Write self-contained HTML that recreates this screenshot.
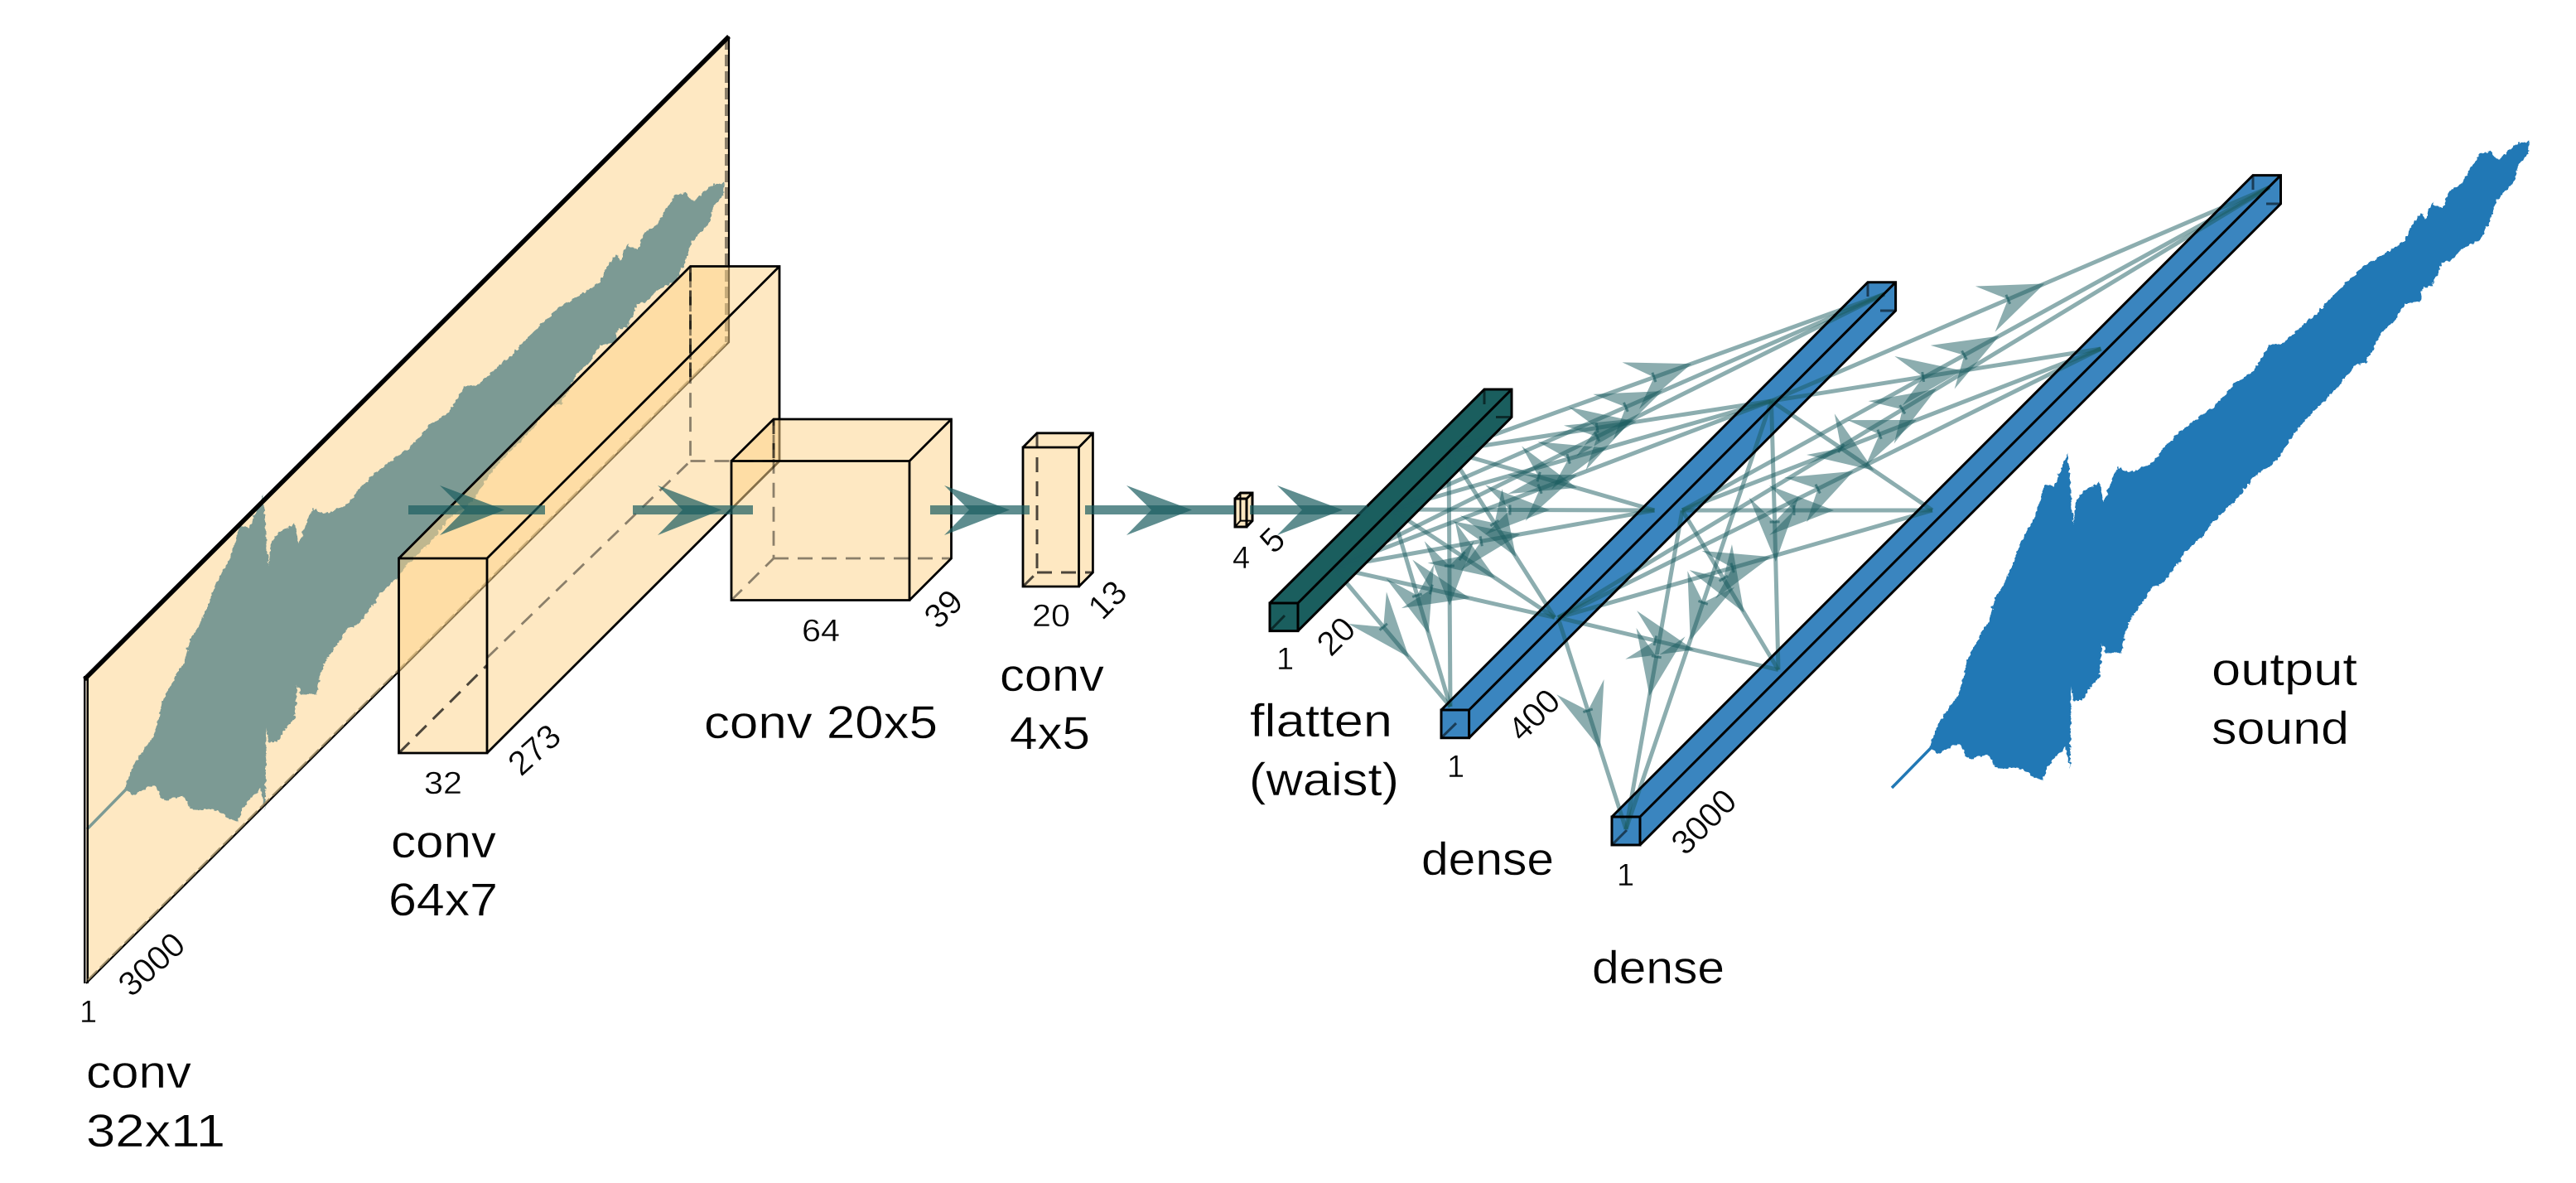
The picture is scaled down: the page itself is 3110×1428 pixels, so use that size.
<!DOCTYPE html>
<html><head><meta charset="utf-8"><style>
html,body{margin:0;padding:0;background:#fff}
svg{display:block}
text{font-family:"Liberation Sans",sans-serif;fill:#050505;stroke:#fff;stroke-width:.4;paint-order:normal}
.l{font-size:56px}
.d{font-size:38px}
.r{text-anchor:middle;dominant-baseline:central;font-size:41px}
.fill{fill:#fdd28a;fill-opacity:.52}
.s{fill:none;stroke:#000;stroke-width:2.8;stroke-linejoin:miter}
.h{fill:none;stroke:#000;stroke-opacity:.45;stroke-width:2.8;stroke-dasharray:18 11}
.k{fill:none;stroke:#000;stroke-opacity:.7;stroke-width:3;stroke-dasharray:18 11}
.c polyline{fill:none;stroke:#1a5c60;stroke-opacity:.5;stroke-width:5}
.m{fill:#1a5c60;fill-opacity:.7}
</style></head><body>
<svg xmlns="http://www.w3.org/2000/svg" width="3110" height="1428" viewBox="0 0 3110 1428">
<defs>
<filter id="j" filterUnits="userSpaceOnUse" x="0" y="0" width="3110" height="1428" color-interpolation-filters="sRGB">
<feTurbulence type="fractalNoise" baseFrequency="0.2" numOctaves="2" seed="4" result="n"/>
<feDisplacementMap in="SourceGraphic" in2="n" scale="6" xChannelSelector="R" yChannelSelector="G"/>
</filter>
<marker id="a" markerUnits="userSpaceOnUse" markerWidth="100" markerHeight="80" viewBox="-40 -40 100 80" refX="16" refY="0" orient="auto" overflow="visible">
<path d="M48,0 L-30,-30 L0,0 L-30,30 Z" fill="#1a5c60" fill-opacity=".5"/>
<rect x="-1.5" y="-6" width="3" height="12" fill="#1a5c60" fill-opacity=".6"/>
</marker>
<g id="w">
<g filter="url(#j)"><path fill="currentColor" transform="translate(2270 500) scale(.33333)" d="M178,1210 205,1130 250,1060 285,1015 315,890 350,820 390,755 415,665 440,630 470,570 505,470 560,370 595,255 630,260 680,140 698,395 710,320 730,285 795,245 808,320 860,190 900,210 990,175 1030,115 1085,65 1170,0 1210,-30 1290,-115 1350,-155 1410,-250 1455,-255 1570,-355 1660,-450 1750,-535 1850,-595 1900,-630 1925,-685 1960,-730 1975,-705 2000,-765 2035,-745 2060,-805 2110,-845 2150,-905 2170,-945 2210,-950 2240,-920 2300,-975 2350,-990 2350,-950 2310,-900 2300,-850 2230,-770 2210,-700 2170,-630 2140,-615 2110,-600 2070,-560 2035,-550 2000,-465 1965,-460 1955,-410 1900,-400 1860,-335 1820,-300 1760,-190 1720,-175 1660,-100 1570,-10 1490,80 1440,165 1350,230 1290,310 1210,385 1170,440 1105,500 1075,545 1025,610 985,625 950,680 905,745 885,800 870,865 815,865 805,830 795,945 730,1035 700,1040 692,985 688,1280 670,1205 610,1270 590,1330 500,1280 420,1280 390,1230 320,1250 285,1190 210,1230 Z"/></g>
<path d="M2284 951 L2331 903" stroke="currentColor" stroke-width="3.5" fill="none"/>
</g>
</defs>

<!-- input plane -->
<path d="M104 818 L880 44 V413 L104 1187 Z" class="fill"/>
<use href="#w" transform="translate(-2179 50)" style="color:#7c9a94"/>
<path d="M102.2 816 V1187 M105.8 816 V1187" stroke="#000" stroke-width="2.4" fill="none"/>
<path d="M102 820 L880 44" stroke="#000" stroke-width="5.5" fill="none"/>
<path d="M880 44 V413 L104 1187" stroke="#000" stroke-width="2.2" fill="none"/>
<path d="M877 46 V413" stroke="#000" stroke-opacity=".45" stroke-width="4" stroke-dasharray="14 6" fill="none"/>
<path d="M106 1183 L877 414" stroke="#8a7a58" stroke-opacity=".8" stroke-width="2.4" stroke-dasharray="16 5" fill="none"/>

<!-- box 2 -->
<path class="fill" d="M481.5 674 L833.5 321.5 H941 V556.5 L588 909 H481.5 Z"/>
<path class="h" d="M588 794 L833.5 556.5 V321.5 M833.5 556.5 H941"/>
<path class="k" d="M481.5 909 L588 803 M833.5 321.5 V455"/>
<path class="s" d="M481.5 674 H588 V909 H481.5 Z M481.5 674 L833.5 321.5 H941 V556.5 L588 909 M588 674 L941 321.5"/>
<!-- box 3 -->
<path class="fill" d="M883 556.5 L934 506 H1148.5 V674 L1098 724.5 H883 Z"/>
<path class="h" d="M883 724.5 L934 674 V506 M934 674 H1148.5"/>
<path class="k" d="M934 506 V556"/>
<path class="s" d="M883 556.5 H1098 V724.5 H883 Z M883 556.5 L934 506 H1148.5 V674 L1098 724.5 M1098 556.5 L1148.5 506"/>
<!-- box 4 -->
<path class="fill" d="M1235 540 L1252 522.8 H1319.4 V691 L1302.5 708 H1235 Z"/>
<path class="k" d="M1235 708 L1252 691 V522.8 M1252 691 H1319.4"/>
<path class="s" d="M1235 540 H1302.5 V708 H1235 Z M1235 540 L1252 522.8 H1319.4 V691 L1302.5 708 M1302.5 540 L1319.4 522.8"/>
<!-- box 5 -->
<path class="fill" d="M1491 602 L1497.5 595 H1512 V628.6 L1505 636 H1491 Z"/>
<path class="s" style="stroke-width:2" d="M1497.5 595 V628.6 H1512 M1491 636 L1497.5 628.6"/>
<path class="s" style="stroke-width:3" d="M1491 602 H1505 V636 H1491 Z M1491 602 L1497.5 595 H1512 V628.6 L1505 636 M1505 602 L1512 595"/>

<!-- bars fill -->
<path fill="#1a5e5e" d="M1533 728 L1792 470 H1825 V503.5 L1567 761.6 H1533 Z"/>
<path fill="#3a85bf" d="M1740 857 L2255 340.7 H2288.6 V375 L1773.6 890.7 H1740 Z"/>
<path fill="#3a85bf" d="M1946 986 L2720 211.6 H2753.5 V246 L1980 1020 H1946 Z"/>

<!-- connectors -->
<g class="c" marker-mid="url(#a)">
<polyline points="1610,685 1680.5,769 1751,853"/>
<polyline points="1610,685 1743.5,715 1877,745.5"/>
<polyline points="1610,685 1804,650.5 1997.5,616"/>
<polyline points="1610,685 1874,584.5 2138.5,484"/>
<polyline points="1610,685 1942.5,520 2275,355"/>
<polyline points="1680,615 1715.5,734 1751,853"/>
<polyline points="1680,615 1778.5,680 1877,745.5"/>
<polyline points="1680,615 1839,615.5 1997.5,616"/>
<polyline points="1680,615 1909,549.5 2138.5,484"/>
<polyline points="1680,615 1977.5,485 2275,355"/>
<polyline points="1749,544.5 1750,699 1751,853"/>
<polyline points="1749,544.5 1813,645 1877,745.5"/>
<polyline points="1749,544.5 1873,580 1997.5,616"/>
<polyline points="1749,544.5 1944,514 2138.5,484"/>
<polyline points="1749,544.5 2012,450 2275,355"/>
<polyline points="1881,745.5 1922,873 1963,1001"/>
<polyline points="1881,745.5 2014,777 2147,808.6"/>
<polyline points="1881,745.5 2107,681 2333,616"/>
<polyline points="1881,745.5 2209,583 2536.5,421"/>
<polyline points="1881,745.5 2310.5,486 2740,226"/>
<polyline points="2031,616 1997,808.5 1963,1001"/>
<polyline points="2031,616 2089,712 2147,808.6"/>
<polyline points="2031,616 2182,616 2333,616"/>
<polyline points="2031,616 2284,518.5 2536.5,421"/>
<polyline points="2031,616 2385.5,421 2740,226"/>
<polyline points="2138.5,484 2051,742.5 1963,1001"/>
<polyline points="2138.5,484 2143,646 2147,808.6"/>
<polyline points="2138.5,484 2236,550 2333,616"/>
<polyline points="2138.5,484 2337.5,452.5 2536.5,421"/>
<polyline points="2138.5,484 2439,355 2740,226"/>
</g>

<!-- bar edges -->
<g class="s" style="stroke-width:3">
<path d="M1533 728 H1567 V761.6 H1533 Z M1533 728 L1792 470 H1825 V503.5 L1567 761.6 M1567 728 L1825 470"/>
<path d="M1740 857 H1773.6 V890.7 H1740 Z M1740 857 L2255 340.7 H2288.6 V375 L1773.6 890.7 M1773.6 857 L2288.6 340.7"/>
<path d="M1946 986 H1980 V1020 H1946 Z M1946 986 L2720 211.6 H2753.5 V246 L1980 1020 M1980 986 L2753.5 211.6"/>
</g>
<g fill="none" stroke="#000" stroke-opacity=".55" stroke-width="3">
<path d="M1792 470 V488 M1806 503.5 H1825 M1533 761.6 L1551 743"/>
<path d="M2255 340.7 V358 M2270 375 H2288 M1740 890.7 L1758 873"/>
<path d="M2720 211.6 V229 M2736 246 H2753 M1946 1020 L1964 1002"/>
</g>

<!-- main arrows -->
<g>
<rect class="m" x="493" y="610" width="165" height="11"/>
<rect class="m" x="764" y="610" width="145" height="11"/>
<rect class="m" x="1123" y="610" width="120" height="11"/>
<rect class="m" x="1310" y="610" width="180" height="11"/>
<rect class="m" x="1509" y="610" width="142" height="11"/>
<path class="m" d="M609 615.5 L531 586 L561 615.5 L531 646 Z"/>
<path class="m" d="M871 615.5 L794 586 L824 615.5 L794 646 Z"/>
<path class="m" d="M1219 615.5 L1140 586 L1170 615.5 L1140 646 Z"/>
<path class="m" d="M1439 615.5 L1360 586 L1390 615.5 L1360 646 Z"/>
<path class="m" d="M1621 615.5 L1542 586 L1572 615.5 L1542 646 Z"/>
</g>

<!-- output wave -->
<use href="#w" style="color:#2178b5"/>

<!-- labels -->
<text class="l" x="104" y="1313" textLength="127" lengthAdjust="spacingAndGlyphs">conv</text>
<text class="l" x="104" y="1384" textLength="168" lengthAdjust="spacingAndGlyphs">32x11</text>
<text class="l" x="472" y="1035" textLength="127" lengthAdjust="spacingAndGlyphs">conv</text>
<text class="l" x="469" y="1105" textLength="132" lengthAdjust="spacingAndGlyphs">64x7</text>
<text class="l" x="850" y="891" textLength="282" lengthAdjust="spacingAndGlyphs">conv 20x5</text>
<text class="l" x="1207" y="834" textLength="126" lengthAdjust="spacingAndGlyphs">conv</text>
<text class="l" x="1219" y="904" textLength="97" lengthAdjust="spacingAndGlyphs">4x5</text>
<text class="l" x="1509" y="889" textLength="172" lengthAdjust="spacingAndGlyphs">flatten</text>
<text class="l" x="1508" y="960" textLength="181" lengthAdjust="spacingAndGlyphs">(waist)</text>
<text class="l" x="1716" y="1056" textLength="160" lengthAdjust="spacingAndGlyphs">dense</text>
<text class="l" x="1922" y="1187" textLength="160" lengthAdjust="spacingAndGlyphs">dense</text>
<text class="l" x="2670" y="827" textLength="176" lengthAdjust="spacingAndGlyphs">output</text>
<text class="l" x="2670" y="898" textLength="166" lengthAdjust="spacingAndGlyphs">sound</text>

<text class="d" x="96" y="1234">1</text>
<text class="d" x="512" y="958" textLength="46" lengthAdjust="spacingAndGlyphs">32</text>
<text class="d" x="968" y="774" textLength="46" lengthAdjust="spacingAndGlyphs">64</text>
<text class="d" x="1246" y="756" textLength="46" lengthAdjust="spacingAndGlyphs">20</text>
<text class="d" x="1488" y="686">4</text>
<text class="d" x="1541" y="808">1</text>
<text class="d" x="1747" y="938">1</text>
<text class="d" x="1952" y="1069">1</text>
<text class="d r" transform="translate(183 1164) rotate(-42)">3000</text>
<text class="d r" transform="translate(645 905) rotate(-42)">273</text>
<text class="d r" transform="translate(1139 735) rotate(-45)">39</text>
<text class="d r" transform="translate(1337 724) rotate(-45)">13</text>
<text class="d r" transform="translate(1536 652) rotate(-45)">5</text>
<text class="d r" transform="translate(1613 768) rotate(-45)">20</text>
<text class="d r" transform="translate(1852 863) rotate(-45)">400</text>
<text class="d r" transform="translate(2057 992) rotate(-45)">3000</text>
</svg>
</body></html>
